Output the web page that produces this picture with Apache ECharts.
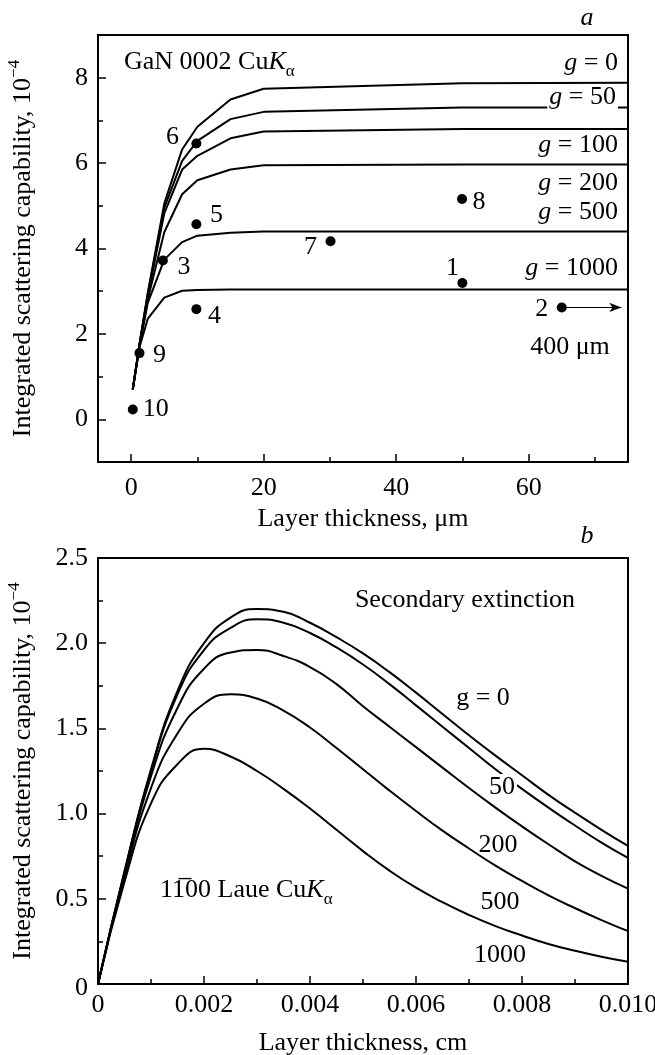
<!DOCTYPE html>
<html>
<head>
<meta charset="utf-8">
<script src="https://cdn.jsdelivr.net/npm/echarts@6/dist/echarts.min.js"></script>
<style>
  html, body { margin: 0; padding: 0; background: #fff; }
  #chart { width: 655px; height: 1055px; }
</style>
</head>
<body>
<div id="chart"></div>
<script>
// ---- panel a : GaN 0002 CuKa, thickness in um ----
const thicknessUm = [0.25, 1.25, 2.5, 5, 7.7, 10, 15, 20, 50, 75];
const aG0    = [0.7, 1.75, 2.95, 5.05, 6.32, 6.85, 7.49, 7.74, 7.87, 7.88];
const aG50   = [0.7, 1.74, 2.92, 4.95, 6.05, 6.52, 7.03, 7.2, 7.3, 7.3];
const aG100  = [0.7, 1.73, 2.88, 4.82, 5.85, 6.17, 6.58, 6.74, 6.8, 6.8];
const aG200  = [0.7, 1.72, 2.8, 4.38, 5.27, 5.6, 5.85, 5.95, 5.97, 5.97];
const aG500  = [0.7, 1.7, 2.72, 3.74, 4.15, 4.3, 4.37, 4.4, 4.4, 4.4];
const aG1000 = [0.7, 1.68, 2.35, 2.85, 3.01, 3.03, 3.04, 3.04, 3.04, 3.04];

// measured samples
const pointNames = ['1', '2', '3', '4', '5', '6', '7', '8', '9', '10'];
const pointX = [50, 65, 4.8, 9.85, 9.85, 9.85, 30.1, 49.95, 1.26, 0.25];
const pointY = [3.19, 2.62, 3.72, 2.58, 4.57, 6.46, 4.17, 5.16, 1.55, 0.23];
const arrowEndX = 74;

const aXLabels = [0, 20, 40, 60];
const aXMinor = [10, 30, 50, 70];
const aYLabels = [0, 2, 4, 6, 8];
const aYMinor = [1, 3, 5, 7];

// ---- panel b : 1-100 Laue CuKa, thickness in cm ----
const thicknessCm = [0, 0.0005, 0.001, 0.0015, 0.002, 0.0025, 0.003, 0.0035, 0.004, 0.0045, 0.005,
                     0.0055, 0.006, 0.0065, 0.007, 0.0075, 0.008, 0.0085, 0.009, 0.0095, 0.01];
const bG0    = [0, 0.66, 1.26, 1.72, 2.0, 2.15, 2.2, 2.185, 2.12, 2.035, 1.94, 1.83, 1.71, 1.585, 1.46, 1.34, 1.225, 1.11, 1.005, 0.905, 0.81];
const bG50   = [0, 0.66, 1.25, 1.7, 1.96, 2.09, 2.14, 2.12, 2.06, 1.975, 1.875, 1.76, 1.635, 1.51, 1.385, 1.26, 1.145, 1.035, 0.93, 0.83, 0.74];
const bG200  = [0, 0.65, 1.22, 1.62, 1.85, 1.945, 1.96, 1.925, 1.86, 1.76, 1.63, 1.51, 1.39, 1.27, 1.15, 1.035, 0.925, 0.82, 0.72, 0.635, 0.56];
const bG500  = [0, 0.63, 1.15, 1.47, 1.645, 1.7, 1.675, 1.605, 1.505, 1.385, 1.26, 1.135, 1.015, 0.9, 0.795, 0.695, 0.605, 0.52, 0.445, 0.375, 0.31];
const bG1000 = [0, 0.6, 1.06, 1.29, 1.38, 1.335, 1.25, 1.145, 1.03, 0.905, 0.78, 0.665, 0.565, 0.48, 0.405, 0.34, 0.285, 0.235, 0.195, 0.16, 0.13];

const bXLabels = [0, 0.002, 0.004, 0.006, 0.008, 0.01];
const bXMinor = [0.001, 0.003, 0.005, 0.007, 0.009];
const bYLabels = [0, 0.5, 1, 1.5, 2, 2.5];
const bYMinor = [0.25, 0.75, 1.25, 1.75, 2.25];

const FONT = 'Liberation Serif';
const FS = 26;

// label offsets (px) of the sample numbers
const pointLabelOffset = [[-10, -15], [-20, 2], [21, 7], [18, 7], [20, -9], [-24, -6], [-20, 6], [17, 3], [20, 2], [23, 0]];

const zip = (xs, ys) => xs.map((x, i) => [x, ys[i]]);

function mainAxis(grid, min, max, ticks, fmt, margin, name, gap, isY) {
  return {
    gridIndex: grid, type: 'value', min: min, max: max,
    position: isY ? 'left' : 'bottom',
    axisLine: { show: true, onZero: false, lineStyle: { color: '#000', width: 2 } },
    axisTick: { show: true, inside: true, length: 8, customValues: ticks, lineStyle: { color: '#000', width: 1.5 } },
    axisLabel: {
      show: true, customValues: ticks, formatter: fmt, margin: margin,
      color: '#000', fontFamily: FONT, fontSize: FS,
      rich: { low: { fontFamily: FONT, fontSize: FS, padding: [8, 0, 0, 0] } }
    },
    splitLine: { show: false },
    name: name, nameLocation: 'middle', nameGap: gap,
    nameTextStyle: {
      color: '#000', fontFamily: FONT, fontSize: FS, lineHeight: 34,
      rich: { sup: { fontFamily: FONT, fontSize: 17, verticalAlign: 'top', lineHeight: 34 } }
    }
  };
}
function minorAxis(grid, min, max, ticks, isY) {
  return {
    gridIndex: grid, type: 'value', min: min, max: max,
    position: isY ? 'left' : 'bottom', offset: 0,
    axisLine: { show: false, onZero: false },
    axisTick: { show: true, inside: true, length: 5, customValues: ticks, lineStyle: { color: '#000', width: 1.5 } },
    axisLabel: { show: false },
    splitLine: { show: false }
  };
}

const yName = 'Integrated scattering capability, 10{sup|−4}';

function curve(data, xi, yi, smooth) {
  return {
    type: 'line', xAxisIndex: xi, yAxisIndex: yi, data: data,
    showSymbol: false, smooth: smooth, silent: true,
    lineStyle: { color: '#000', width: 2 }
  };
}

const txt = (x, y, text, opt) => Object.assign({
  type: 'text', x: x, y: y, z: 100,
  style: Object.assign({
    text: text, fontFamily: FONT, fontSize: FS, fill: '#000',
    align: 'center', verticalAlign: 'middle',
    rich: {
      i: { fontFamily: FONT, fontSize: FS, fontStyle: 'italic' },
      sub: { fontFamily: FONT, fontSize: 17, verticalAlign: 'bottom', lineHeight: 36 }
    }
  }, opt || {})
});

const chart = echarts.init(document.getElementById('chart'), null, { renderer: 'canvas' });

const option = {
  backgroundColor: '#fff',
  animation: false,
  grid: [
    { left: 98, top: 35, width: 530, height: 427, outerBoundsMode: 'none', containLabel: false,
      show: true, borderColor: '#000', borderWidth: 2, backgroundColor: 'transparent' },
    { left: 98, top: 558, width: 530, height: 426, outerBoundsMode: 'none', containLabel: false,
      show: true, borderColor: '#000', borderWidth: 2, backgroundColor: 'transparent' }
  ],
  xAxis: [
    mainAxis(0, -5, 75, aXLabels, v => String(v), 13, 'Layer thickness, μm', 40, false),
    minorAxis(0, -5, 75, aXMinor, false),
    mainAxis(1, 0, 0.01, bXLabels, v => (v === 0 ? '0' : v.toFixed(3)), 8, 'Layer thickness, cm', 42, false),
    minorAxis(1, 0, 0.01, bXMinor, false)
  ],
  yAxis: [
    mainAxis(0, -1, 9, aYLabels, v => String(v), 10, yName, 58, true),
    minorAxis(0, -1, 9, aYMinor, true),
    mainAxis(1, 0, 2.5, bYLabels, v => (v === 0 ? '{low|0}' : v.toFixed(1)), 10, yName, 58, true),
    minorAxis(1, 0, 2.5, bYMinor, true)
  ],
  series: [
    curve(zip(thicknessUm, aG0), 0, 0, false),
    curve(zip(thicknessUm, aG50), 0, 0, false),
    curve(zip(thicknessUm, aG100), 0, 0, false),
    curve(zip(thicknessUm, aG200), 0, 0, false),
    curve(zip(thicknessUm, aG500), 0, 0, false),
    curve(zip(thicknessUm, aG1000), 0, 0, false),
    {
      type: 'scatter', xAxisIndex: 0, yAxisIndex: 0, z: 5,
      symbol: 'circle', symbolSize: 10,
      itemStyle: { color: '#000', opacity: 1 },
      data: pointX.map((x, i) => ({
        value: [x, pointY[i]],
        label: {
          show: true, formatter: pointNames[i], position: 'inside',
          offset: pointLabelOffset[i], color: '#000', opacity: 1, fontFamily: FONT, fontSize: FS
        }
      })),
      markLine: {
        silent: true, symbol: ['none', 'arrow'], symbolSize: [7, 12],
        lineStyle: { color: '#000', width: 1.2, type: 'solid', opacity: 1 },
        label: { show: false },
        data: [[{ coord: [pointX[1], pointY[1]] }, { coord: [arrowEndX, pointY[1]] }]]
      }
    },
    curve(zip(thicknessCm, bG0), 2, 2, 0.5),
    curve(zip(thicknessCm, bG50), 2, 2, 0.5),
    curve(zip(thicknessCm, bG200), 2, 2, 0.5),
    curve(zip(thicknessCm, bG500), 2, 2, 0.5),
    curve(zip(thicknessCm, bG1000), 2, 2, 0.5)
  ],
  graphic: [
    // panel a
    txt(587, 18, 'a', { fontStyle: 'italic' }),
    txt(124, 62, 'GaN 0002 Cu{i|K}{sub|α}', { align: 'left' }),
    txt(618, 63, '{i|g} = 0', { align: 'right' }),
    txt(618, 97, '{i|g} = 50', { align: 'right', backgroundColor: '#fff', padding: [0, 2, 0, 2] }),
    txt(618, 145, '{i|g} = 100', { align: 'right' }),
    txt(618, 183, '{i|g} = 200', { align: 'right' }),
    txt(618, 212, '{i|g} = 500', { align: 'right' }),
    txt(618, 268, '{i|g} = 1000', { align: 'right' }),
    txt(570, 347, '400 μm'),
    // panel b
    txt(587, 536, 'b', { fontStyle: 'italic' }),
    txt(465, 600, 'Secondary extinction'),
    txt(483, 698, 'g = 0'),
    txt(502, 787, '50', { backgroundColor: '#fff', padding: [0, 2, 0, 2] }),
    txt(498, 845, '200'),
    txt(500, 902, '500'),
    txt(500, 955, '1000'),
    txt(160, 890, '11\u030500 Laue Cu{i|K}{sub|α}', { align: 'left' })
  ]
};

chart.setOption(option);
</script>
</body>
</html>
